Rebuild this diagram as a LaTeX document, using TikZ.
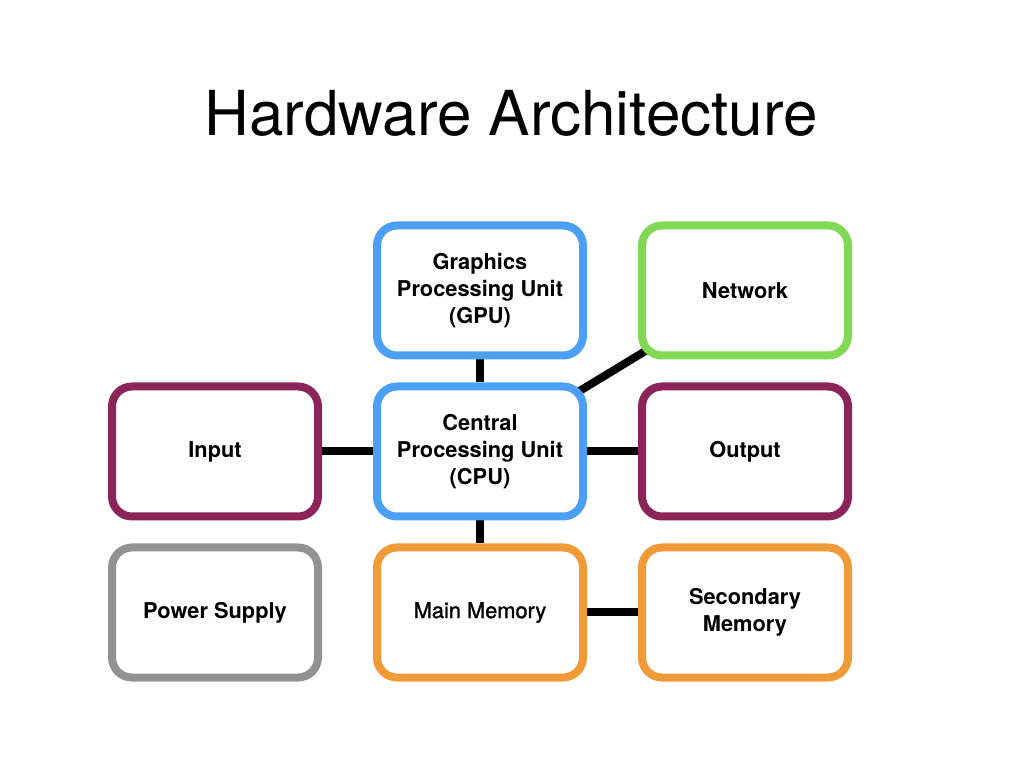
\documentclass[tikz,border=0pt]{standalone}
\usepackage{fontspec}
\setmainfont{TeX Gyre Heros}
\newfontfamily\medfont[FakeBold=1.2]{TeX Gyre Heros}
\usetikzlibrary{positioning,backgrounds}
\definecolor{hwblue}{RGB}{75,160,245}
\definecolor{hwpurple}{RGB}{140,36,90}
\definecolor{hwgreen}{RGB}{128,216,85}
\definecolor{hworange}{RGB}{240,154,56}
\definecolor{hwgray}{RGB}{146,146,146}
\tikzset{hwbox/.style={draw=#1, line width=8pt, rounded corners=20pt, fill=white,
	minimum width=206pt, minimum height=130pt, inner sep=0pt, align=center,
	font=\fontsize{21.8}{27}\selectfont\bfseries}}
\tikzset{conn/.style={draw, line width=8pt, black}}
\begin{document}
\begin{tikzpicture}[x=1pt, y=1pt]
			\useasboundingbox (0,0) rectangle (1024,768);
			\node[anchor=base, font=\fontsize{62}{70}\selectfont] (title) at (511,632) {Hardware Architecture};
			%
			\node[hwbox=hwblue] (cpu) at (480,316.5) {Central\\Processing Unit\\(CPU)};
			\node[hwbox=hwblue, above=23pt of cpu] (gpu) {Graphics\\Processing Unit\\(GPU)};
			\node[hwbox=hworange, below=23pt of cpu, font=\fontsize{21.8}{27}\medfont] (mem) {Main Memory};
			\node[hwbox=hwpurple, left=51pt of cpu] (inp) {Input};
			\node[hwbox=hwpurple, right=51pt of cpu] (outp) {Output};
			\node[hwbox=hwgreen, above=23pt of outp] (net) {Network};
			\node[hwbox=hworange, below=23pt of outp] (sec) {Secondary\\Memory};
			\node[hwbox=hwgray, below=23pt of inp] (pwr) {Power Supply};
			%
			\begin{pgfonlayer}{background}
			\draw[conn] (gpu) -- (cpu);
			\draw[conn] (cpu) -- (mem);
			\draw[conn] (inp) -- (cpu);
			\draw[conn] (cpu) -- (outp);
			\draw[conn] (mem) -- (sec);
			\draw[conn] (cpu.center) -- (net.center);
			\end{pgfonlayer}
		\end{tikzpicture}
\end{document}
